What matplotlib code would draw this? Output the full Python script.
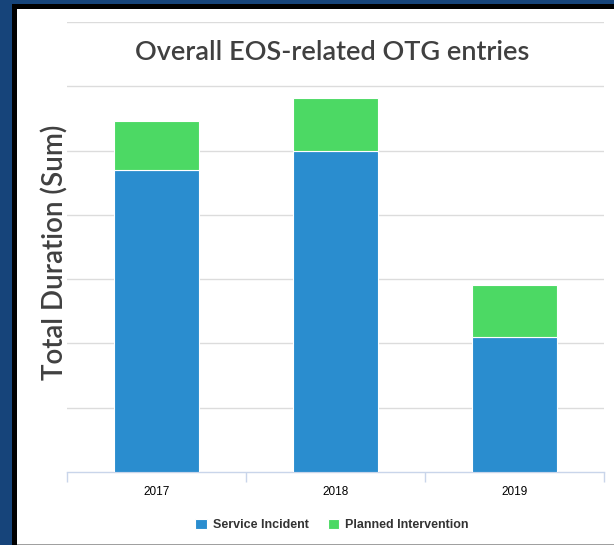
import matplotlib.pyplot as plt
from matplotlib.patches import Rectangle
import numpy as np

years = ['2017', '2018', '2019']
service_incident = [4.70, 5.00, 2.10]
planned_intervention = [0.76, 0.82, 0.81]

blue = '#2a8dcf'
green = '#4cd964'

W, H = 614, 545
fig = plt.figure(figsize=(W / 100, H / 100), dpi=100)
fig.patch.set_facecolor('#16447a')

# slide panel: black frame + white card
fig.patches.append(Rectangle((12 / W, 0), 1, 1 - 4 / H, transform=fig.transFigure,
                             facecolor='black', edgecolor='none', zorder=-3))
fig.patches.append(Rectangle((17 / W, 1 / H), 1, 1 - 10 / H, transform=fig.transFigure,
                             facecolor='white', edgecolor='none', zorder=-2))
fig.patches.append(Rectangle((17 / W, 0), 1, 1.5 / H, transform=fig.transFigure,
                             facecolor='#a0a0a0', edgecolor='none', zorder=-2))

ax = fig.add_axes([67 / W, 1 - 472 / H, (604 - 67) / W, (472 - 22) / H])
ax.set_zorder(2)
ax.set_facecolor('none')

x = np.arange(len(years))
ax.bar(x, service_incident, width=0.475, color=blue, edgecolor='white',
       linewidth=0.8, label='Service Incident', zorder=3)
ax.bar(x, planned_intervention, width=0.475, bottom=service_incident, color=green,
       edgecolor='white', linewidth=0.8, label='Planned Intervention', zorder=3)

ax.set_xlim(-0.5, 2.5)
ax.set_ylim(0, 7)
ax.set_yticks(np.arange(1, 8))
ax.yaxis.grid(True, color='#dcdcdc', linewidth=1)
ax.tick_params(axis='y', length=0, labelleft=False)
for s in ['left', 'right', 'top']:
    ax.spines[s].set_visible(False)
ax.spines['bottom'].set_color('#c9d5ea')
ax.spines['bottom'].set_linewidth(1)

ax.set_xticks(x)
ax.set_xticklabels(years, fontfamily='Liberation Sans', fontsize=8.5, color='black')
ax.set_xticks([-0.5, 0.5, 1.5, 2.5], minor=True)
ax.tick_params(axis='x', which='major', length=0, pad=10)
ax.tick_params(axis='x', which='minor', length=7, color='#c9d5ea', width=1)

fig.text(332 / W, 1 - 52 / H, 'Overall EOS-related OTG entries', ha='center', va='center',
         fontfamily='Lato', fontsize=19.5, fontweight='semibold', color='#404040')
fig.text(55 / W, 1 - 252 / H, 'Total Duration (Sum)', ha='center', va='center',
         rotation=90, fontfamily='Lato', fontsize=20, fontweight='semibold', color='#404040')

ax.legend(loc='center', bbox_to_anchor=(332 / W, 1 - 525 / H),
          bbox_transform=fig.transFigure, ncol=2, frameon=False,
          handlelength=0.9, handleheight=0.9, handletextpad=0.5, columnspacing=1.5,
          prop={'family': 'Liberation Sans', 'size': 9, 'weight': 'bold'},
          labelcolor='#333333')

fig.savefig('out.png', dpi=100, facecolor=fig.get_facecolor())
